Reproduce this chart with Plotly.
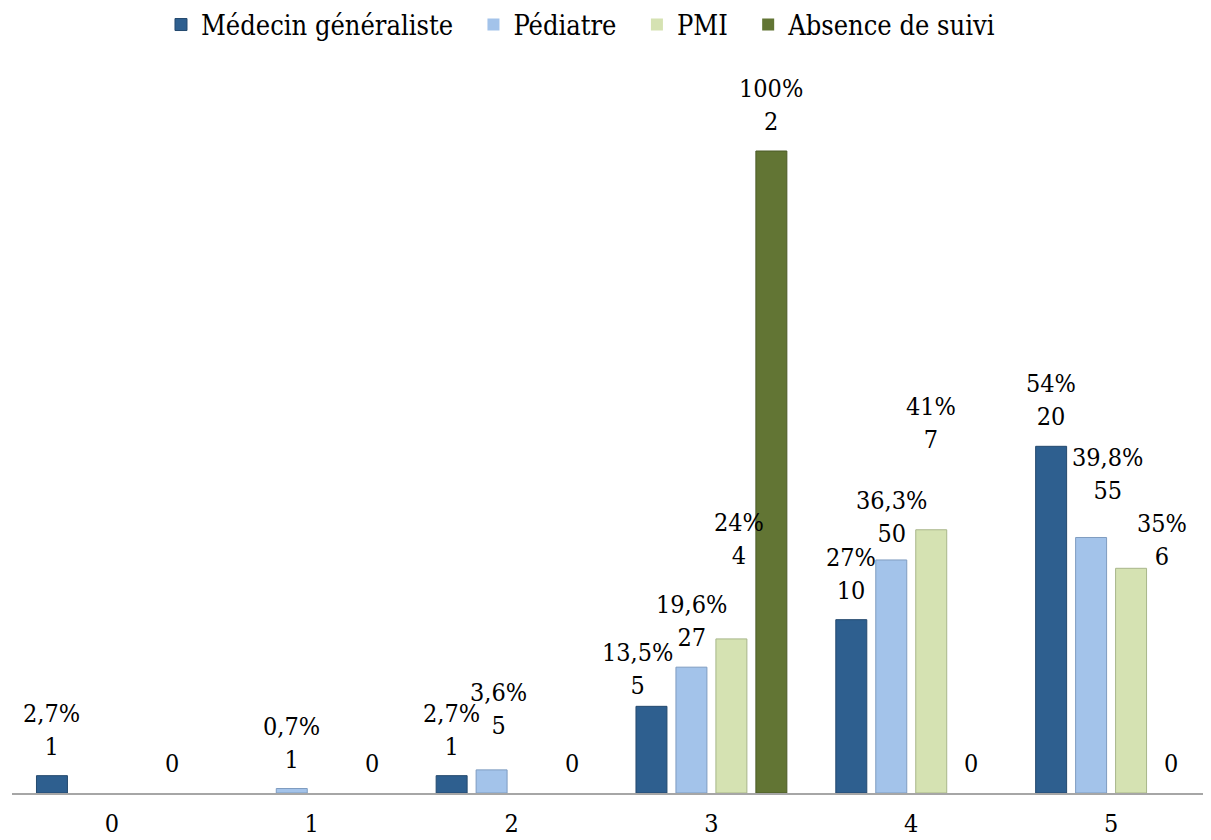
import plotly.graph_objects as go

categories = ["0", "1", "2", "3", "4", "5"]
series_names = ["Médecin généraliste", "Pédiatre", "PMI", "Absence de suivi"]

pct_medecin = [2.7, None, 2.7, 13.5, 27, 54]
pct_pediatre = [None, 0.7, 3.6, 19.6, 36.3, 39.8]
pct_pmi = [None, None, None, 24, 41, 35]
pct_absence = [0, 0, 0, 100, 0, 0]

n_medecin = [1, None, 1, 5, 10, 20]
n_pediatre = [None, 1, 5, 27, 50, 55]
n_pmi = [None, None, None, 4, 7, 6]
n_absence = [0, 0, 0, 2, 0, 0]

# styling / label placement (pixels), not data
colors = ["#2E5F8F", "#A3C3EA", "#D5E2B2", "#627534"]
edge_colors = ["#24496E", "#7F9CC0", "#A8B68A", "#4B5A27"]
slot_shift = [-60, -20, 20, 60]
label_dx = [
    [0, 0, 0, -14, 0, 0],
    [0, 0, 7, 0, 0, 16],
    [0, 0, 0, 8, 0, 31],
    [0, 0, 0, 0, 0, 0],
]
label_dy = [
    [0, 0, 0, -9, 0, 0],
    [0, 0, 15, 0, -3, 17],
    [0, 0, 0, 54, 61, -18],
    [0, 0, 0, 0, 0, 0],
]
legend_pad = "\u00a0\u00a0"

pcts = [pct_medecin, pct_pediatre, pct_pmi, pct_absence]
counts = [n_medecin, n_pediatre, n_pmi, n_absence]

FONT = "DejaVu Serif Condensed, DejaVu Serif, serif"

fig = go.Figure()
for i, name in enumerate(series_names):
    line_w = [0 if (v is None or v == 0) else 1 for v in pcts[i]]
    shown = name + (legend_pad if i < len(series_names) - 1 else "")
    fig.add_trace(go.Bar(
        name=shown,
        x=categories,
        y=pcts[i],
        marker=dict(color=colors[i], line=dict(color=edge_colors[i], width=line_w)),
        hoverinfo="skip",
    ))

annotations = []
for i in range(len(series_names)):
    for j, c in enumerate(categories):
        p = pcts[i][j]
        n = counts[i][j]
        if p is None:
            continue
        if p == 0:
            txt = f"{n}"
        else:
            ps = (f"{p:g}").replace(".", ",")
            txt = f"{ps}%<br>{n}"
        annotations.append(dict(
            x=c, y=p, xref="x", yref="y",
            text=txt, showarrow=False,
            xanchor="center", yanchor="bottom",
            xshift=slot_shift[i] + label_dx[i][j],
            yshift=13 + label_dy[i][j],
            font=dict(family=FONT, size=25, color="#000000"),
        ))

# the page body adds an 8px offset; the figure is sized to fit the window
fig.update_layout(
    width=1203, height=832,
    margin=dict(l=4, r=0, t=72, b=47, autoexpand=False),
    paper_bgcolor="white", plot_bgcolor="white",
    barmode="group", bargap=0.2, bargroupgap=0.225,
    font=dict(family=FONT, size=25, color="#000000"),
    showlegend=True,
    legend=dict(
        orientation="h", xref="container", x=0.4763, xanchor="center",
        yref="container", y=0.9796, yanchor="middle",
        font=dict(family=FONT, size=27, color="#000000"),
        itemwidth=30, bgcolor="rgba(0,0,0,0)",
    ),
    annotations=annotations,
    xaxis=dict(
        type="category", showline=True, linecolor="#A6A6A6", linewidth=2,
        ticks="", showgrid=False, zeroline=False,
        tickfont=dict(family=FONT, size=25, color="#000000"),
        ticklabelstandoff=7,
    ),
    yaxis=dict(range=[0, 111.06], visible=False, showgrid=False, zeroline=False),
)

fig.write_html("out.html")
